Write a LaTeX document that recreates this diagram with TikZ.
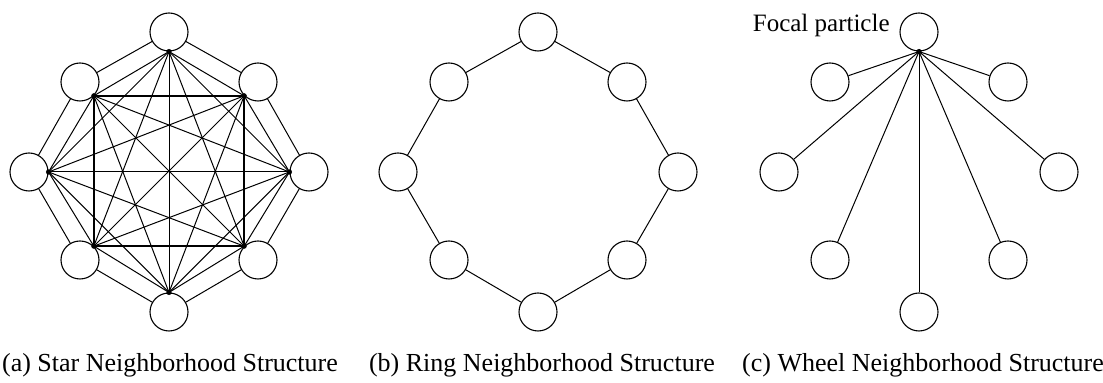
\documentclass[tikz,border=0pt]{standalone}
\usepackage{fontspec}
\setmainfont{Liberation Serif}

\begin{document}
\begin{tikzpicture}[
    x=0.5pt, y=-0.5pt,
    particle/.style={draw, circle, minimum size=19pt, inner sep=0pt, line width=0.55pt},
    link/.style={line width=0.5pt},
    caption/.style={font=\fontsize{13}{15}\selectfont, anchor=base, inner sep=0pt}]
  \useasboundingbox (0,0) rectangle (1103,383);
  % eight particles per structure, clockwise from the top
  \foreach \g/\cx in {s/169, r/538, w/919}
    \foreach \i/\dx/\dy in {1/0/0, 2/89/50, 3/140/140, 4/89/228, 5/0/280, 6/-89/228, 7/-140/140, 8/-89/50}
      \node[particle] (\g\i) at (\cx+\dx, 32+\dy) {};
  % outer rings
  \foreach \i/\j in {1/2, 2/3, 3/4, 4/5, 5/6, 6/7, 7/8, 8/1} {
    \draw[link] (s\i) -- (s\j);
    \draw[link] (r\i) -- (r\j);
  }
  % star: everyone linked to everyone
  \foreach \i/\a in {1/south, 2/south west, 3/west, 4/north west, 5/north, 6/north east, 7/east, 8/south east}
    \coordinate (p\i) at (s\i.\a);
  \foreach \i in {1,...,7} {
    \pgfmathtruncatemacro\k{\i+1}
    \foreach \j in {\k,...,8}
      \draw[link] (p\i) -- (p\j);
  }
  \draw[line width=0.9pt] (p2) -- (p4) -- (p6) -- (p8) -- cycle;
  \foreach \i in {1,...,8}
    \fill (p\i) circle[radius=1.3pt];
  % wheel: spokes from the focal particle
  \coordinate (hub) at (w1.south);
  \foreach \i in {2,...,8}
    \draw[link] (hub) -- (w\i);
  \fill (hub) circle[radius=1.3pt];
  \node[caption, anchor=base east, font=\fontsize{12.5}{15}\selectfont] (focal) at (890,32) {Focal particle};
  \node[caption] (capA) at (170,372) {(a) Star Neighborhood Structure};
  \node[caption] (capB) at (542,372) {(b) Ring Neighborhood Structure};
  \node[caption] (capC) at (923,372) {(c) Wheel Neighborhood Structure};
\end{tikzpicture}
\end{document}
